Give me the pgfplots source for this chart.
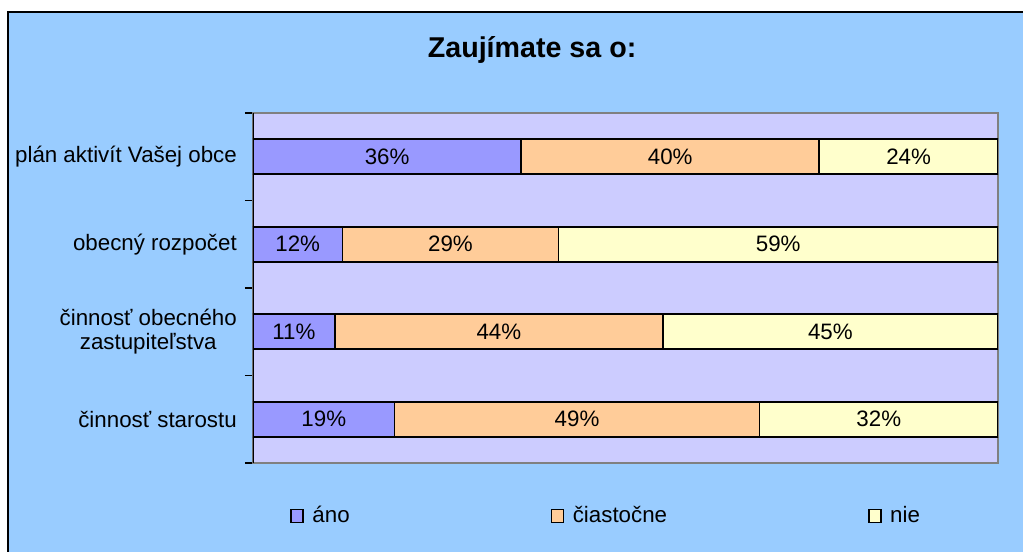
\documentclass[border=0pt]{standalone}
\usepackage{fontspec}
\setmainfont{Liberation Sans}
\usepackage{pgfplots}
\pgfplotsset{compat=1.18}
\definecolor{bgblue}{HTML}{99CCFF}
\definecolor{plotbg}{HTML}{CCCCFF}
\definecolor{cAno}{HTML}{9999FF}
\definecolor{cCiast}{HTML}{FFCC99}
\definecolor{cNie}{HTML}{FFFFCC}
\newcommand{\lbl}{\fontsize{12.7}{13.8}\selectfont}

\begin{document}
\begin{tikzpicture}
\path[use as bounding box] (0,0) rectangle (20.46cm,-11.04cm);
\begin{scope}[x=0.02cm,y=-0.02cm]
  \fill[white] (0,0) rectangle (1023,552);
  \fill[bgblue] (8,12) rectangle (1023,552);
  \draw[black,line width=0.9pt] (8,552) -- (8,12) -- (1023,12);
  \node[font=\fontsize{16.3}{19}\selectfont\bfseries] at (532,50) {Zaujímate sa o:};
\end{scope}

\begin{axis}[
  at={(5.06cm,-9.26cm)}, anchor=south west,
  scale only axis, width=14.9cm, height=7cm,
  xbar stacked, bar width=0.7cm,
  xmin=0, xmax=100, ymin=-0.5, ymax=3.5, y dir=reverse,
  xtick=\empty,
  ytick={0,1,2,3},
  yticklabels={plán aktivít Vašej obce, obecný rozpočet, {činnosť obecného\\zastupiteľstva}, činnosť starostu},
  yticklabel style={align=center, font=\lbl, xshift=-0.2cm},
  major tick length=0pt,
  minor ytick={-0.5,0.5,1.5,2.5,3.5},
  minor tick length=0.16cm, tick align=outside, ytick pos=left,
  minor tick style={black, line width=0.6pt},
  axis background/.style={fill=plotbg},
  axis line style={draw=gray, line width=0.9pt},
  legend image code/.code={\draw[#1, line width=0.9pt] (0cm,-0.13cm) rectangle (0.24cm,0.13cm);},
  legend columns=3, legend cell align=left,
  legend style={at={(0.0497,-0.151)}, anchor=west, draw=none, fill=none,
    inner sep=0pt, font=\lbl,
    /tikz/every odd column/.append style={column sep=0.1cm},
    /tikz/every even column/.append style={column sep=3.95cm}},
]
\addplot[fill=cAno, draw=black, line width=0.9pt] coordinates {(36,0) (12,1) (11,2) (19,3)};
\addplot[fill=cCiast, draw=black, line width=0.9pt] coordinates {(40,0) (29,1) (44,2) (49,3)};
\addplot[fill=cNie, draw=black, line width=0.9pt] coordinates {(24,0) (59,1) (45,2) (32,3)};
\legend{áno, čiastočne, nie}
\draw[black, line width=0.9pt] (rel axis cs:0,0) -- (rel axis cs:0,1);
\end{axis}

\begin{axis}[
  at={(5.06cm,-9.26cm)}, anchor=south west,
  scale only axis, width=14.9cm, height=7cm,
  xmin=0, xmax=100, ymin=-0.5, ymax=3.5, y dir=reverse,
  hide axis,
  point meta=explicit,
  /pgf/number format/assume math mode=true,
  nodes near coords={\pgfmathprintnumber{\pgfplotspointmeta}\%},
  every node near coord/.append style={font=\lbl, anchor=center},
]
\addplot[draw=none] coordinates {
  (18,0) [36] (56,0) [40] (88,0) [24]
  (6,1) [12] (26.5,1) [29] (70.5,1) [59]
  (5.5,2) [11] (33,2) [44] (77.5,2) [45]
  (9.5,3) [19] (43.5,3) [49] (84,3) [32]
};
\end{axis}
\end{tikzpicture}
\end{document}
